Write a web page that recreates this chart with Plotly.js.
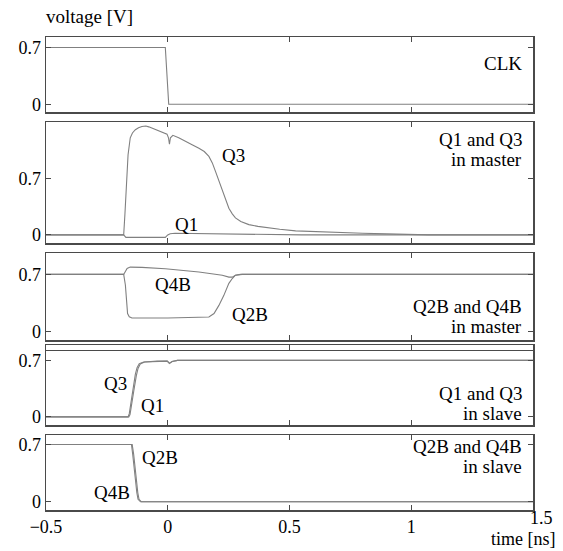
<!DOCTYPE html>
<html>
<head>
<meta charset="utf-8">
<script src="https://cdn.plot.ly/plotly-3.0.1.min.js"></script>
<style>
html,body{margin:0;padding:0;background:#fff;}
#chart{width:563px;height:551px;}
#chart svg text{font-family:'Liberation Serif' !important;}
</style>
</head>
<body>
<div id="chart"></div>
<script>
// ---- data (time in ns, voltage in V) ----
const xTickVals = [-0.5, 0, 0.5, 1, 1.5];
const xTickText = ['\u22120.5', '0', '0.5', '1', '1.5'];
const yTickVals = [0, 0.7];
const yTickText = ['0', '0.7'];

// CLK
const clkT = [-0.5, -0.01, 0.004, 1.5];
const clkV = [0.7, 0.7, 0, 0];

// master Q3
const mQ3T = [-0.5, -0.181, -0.176, -0.172, -0.163, -0.154, -0.145, -0.133, -0.12, -0.106, -0.09, -0.078, -0.06, -0.037, -0.015, -0.003, 0.003, 0.007, 0.011, 0.021, 0.045, 0.073, 0.1, 0.128, 0.15, 0.169, 0.183, 0.196, 0.21, 0.224, 0.238, 0.251, 0.265, 0.278, 0.3, 0.333, 0.37, 0.402, 0.46, 0.525, 0.6, 0.7, 0.8, 0.9, 1.0, 1.07, 1.5];
const mQ3V = [0, 0, 0.25, 0.46, 0.99, 1.2, 1.26, 1.3, 1.325, 1.34, 1.345, 1.335, 1.315, 1.28, 1.26, 1.245, 1.2, 1.12, 1.2, 1.23, 1.2, 1.16, 1.115, 1.07, 1.03, 0.97, 0.89, 0.785, 0.67, 0.54, 0.43, 0.33, 0.26, 0.21, 0.165, 0.127, 0.105, 0.09, 0.07, 0.05, 0.04, 0.028, 0.02, 0.013, 0.008, 0, 0];
// master Q1
const mQ1T = [-0.5, -0.181, -0.172, -0.1, -0.01, 0.0, 0.01, 0.03, 0.2, 0.5, 0.55, 1.5];
const mQ1V = [0, 0, -0.03, -0.03, -0.03, 0.0, 0.015, 0.02, 0.015, 0.01, 0, 0];

// master Q4B
const mQ4BT = [-0.5, -0.181, -0.167, -0.154, -0.106, -0.01, 0.128, 0.224, 0.251, 0.265, 0.278, 0.298, 1.5];
const mQ4BV = [0.7, 0.7, 0.774, 0.79, 0.786, 0.77, 0.73, 0.69, 0.667, 0.667, 0.69, 0.7, 0.7];
// master Q2B
const mQ2BT = [-0.5, -0.181, -0.174, -0.17, -0.165, -0.158, -0.147, 0.0, 0.169, 0.19, 0.21, 0.23, 0.251, 0.265, 0.278, 0.306, 1.5];
const mQ2BV = [0.7, 0.7, 0.57, 0.40, 0.22, 0.18, 0.165, 0.165, 0.177, 0.22, 0.32, 0.44, 0.59, 0.65, 0.69, 0.7, 0.7];

// slave Q3
const sQ3T = [-0.5, -0.163, -0.158, -0.151, -0.143, -0.133, -0.126, -0.117, -0.099, -0.044, -0.002, 0.007, 0.018, 0.04, 1.5];
const sQ3V = [0, 0, 0.04, 0.18, 0.35, 0.53, 0.61, 0.66, 0.68, 0.69, 0.69, 0.66, 0.685, 0.7, 0.7];
// slave Q1
const sQ1T = [-0.5, -0.16, -0.155, -0.147, -0.139, -0.129, -0.122, -0.113, -0.095, -0.044, -0.002, 0.007, 0.018, 0.04, 1.5];
const sQ1V = [0, 0, 0.03, 0.16, 0.33, 0.51, 0.6, 0.655, 0.68, 0.69, 0.69, 0.665, 0.685, 0.7, 0.7];

// slave Q2B
const sQ2BT = [-0.5, -0.149, -0.144, -0.138, -0.133, -0.127, -0.122, -0.112, 1.5];
const sQ2BV = [0.7, 0.7, 0.58, 0.41, 0.25, 0.11, 0.03, 0, 0];
// slave Q4B
const sQ4BT = [-0.5, -0.146, -0.14, -0.134, -0.129, -0.123, -0.118, -0.108, 1.5];
const sQ4BV = [0.7, 0.7, 0.58, 0.41, 0.25, 0.11, 0.03, 0, 0];

// ---- chart ----
const lineCol = '#808080';
const axCol = '#4a4a4a';
function tr(x, y, i, w) {
  return {x: x, y: y, xaxis: 'x' + (i === 1 ? '' : i), yaxis: 'y' + (i === 1 ? '' : i),
    mode: 'lines', line: {color: lineCol, width: w || 1.1}, hoverinfo: 'skip', showlegend: false};
}
const data = [
  tr(clkT, clkV, 1),
  tr(mQ1T, mQ1V, 2), tr(mQ3T, mQ3V, 2),
  tr(mQ2BT, mQ2BV, 3), tr(mQ4BT, mQ4BV, 3),
  tr(sQ1T, sQ1V, 4), tr(sQ3T, sQ3V, 4),
  tr(sQ2BT, sQ2BV, 5), tr(sQ4BT, sQ4BV, 5)
];

const W = 563, H = 551;
const mL = 46, mR = 30, mT = 37, mB = 41;
const plotH = H - mT - mB;
// panel pixel extents (top, bottom)
const panels = [[37, 112], [122, 243], [253, 340], [345, 425], [435, 510]];
const yRanges = [[-0.095, 0.83], [-0.10, 1.395], [-0.105, 0.963], [-0.10, 0.89], [-0.10, 0.815]];
const fy = py => (H - mB - py) / plotH;
const fx = px => (px - mL) / (W - mL - mR);

const annFont = () => ({family: 'Liberation Serif', size: 19, color: '#000'});
const tickFont = () => ({family: 'Liberation Serif', size: 18, color: '#000'});
const layout = {
  width: W, height: H,
  margin: {l: mL, r: mR, t: mT, b: mB},
  paper_bgcolor: '#fff', plot_bgcolor: '#fff',
  font: {family: 'Liberation Serif', size: 18, color: '#000'},
  showlegend: false,
  annotations: [],
  shapes: []
};
for (let i = 1; i <= 5; i++) {
  const s = i === 1 ? '' : String(i);
  const p = panels[i - 1];
  layout['xaxis' + s] = {
    domain: [0, 1], range: [-0.5, 1.5], anchor: 'y' + s,
    tickmode: 'array', tickvals: xTickVals,
    ticktext: xTickText.map((t, k) => k === xTickText.length - 1 ? '' : t),
    showticklabels: i === 5, ticks: 'inside', ticklen: 5, tickwidth: 1, tickcolor: axCol,
    mirror: 'ticks', showline: true, linecolor: axCol, linewidth: 1.5,
    showgrid: false, zeroline: false, tickfont: tickFont(), fixedrange: true
  };
  layout['yaxis' + s] = {
    domain: [fy(p[1]), fy(p[0])], range: yRanges[i - 1], anchor: 'x' + s,
    tickmode: 'array', tickvals: yTickVals, ticktext: yTickText,
    ticks: 'inside', ticklen: 5, tickwidth: 1, tickcolor: axCol,
    mirror: 'ticks', showline: true, linecolor: axCol, linewidth: 1.5,
    showgrid: false, zeroline: false, tickfont: tickFont(), fixedrange: true
  };
}
// extra rule under top of panel 4 (as in the reference)
layout.shapes.push({type: 'line', xref: 'paper', yref: 'paper', x0: 0, x1: 1, y0: fy(350.5), y1: fy(350.5), line: {color: axCol, width: 1}});

function ann(text, px, py, xa, f) {
  layout.annotations.push({text: text, xref: 'paper', yref: 'paper', x: fx(px), y: fy(py),
    xanchor: xa || 'center', yanchor: 'middle', showarrow: false, font: f || annFont()});
}
ann('voltage [V]', 44, 17, 'left');
ann('CLK', 524, 64, 'right');
ann('Q1 and Q3', 524, 139, 'right');
ann('in master', 524, 159, 'right');
ann('Q3', 233, 155);
ann('Q1', 186, 224);
ann('Q4B', 173, 284);
ann('Q2B', 250, 314);
ann('Q2B and Q4B', 524, 306, 'right');
ann('in master', 524, 326, 'right');
ann('Q3', 115, 383);
ann('Q1', 152, 405);
ann('Q1 and Q3', 524, 393, 'right');
ann('in slave', 524, 413, 'right');
ann('Q2B', 160, 457);
ann('Q4B', 112, 492);
ann('Q2B and Q4B', 524, 446, 'right');
ann('in slave', 524, 466, 'right');
// last x tick label sits raised and to the right of its tick, as in the reference
ann(xTickText[xTickText.length - 1], 541, 518, 'center', tickFont());
ann('time [ns]', 558, 539, 'right', tickFont());

Plotly.newPlot('chart', data, layout, {displayModeBar: false, staticPlot: true});
</script>
</body>
</html>
